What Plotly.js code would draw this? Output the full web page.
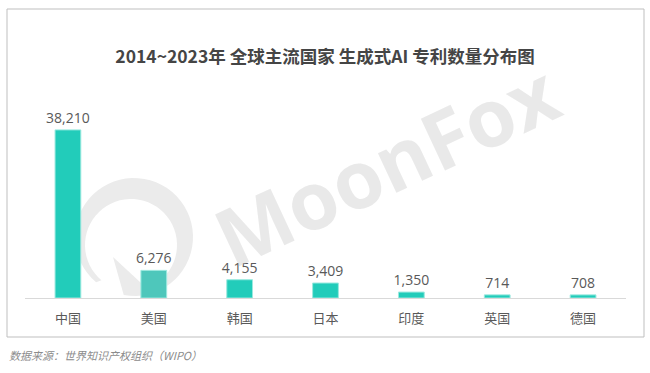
<!DOCTYPE html>
<html>
<head>
<meta charset="utf-8">
<script src="https://cdn.plot.ly/plotly-3.0.1.min.js"></script>
<style>html,body{margin:0;padding:0;background:#fff;}</style>
</head>
<body>
<div id="chart" style="width:650px;height:373px;"></div>
<script>
const countries = ["中国", "美国", "韩国", "日本", "印度", "英国", "德国"];
const patents = [38210, 6276, 4155, 3409, 1350, 714, 708];
const barColors = ["#22CCBA", "#4EC7BB", "#22CCBA", "#22CCBA", "#22CCBA", "#22CCBA", "#22CCBA"];
const titleText = "2014~2023年 全球主流国家 生成式AI 专利数量分布图";
const sourceText = "数据来源：世界知识产权组织（WIPO）";

const fontFam = "'Open Sans', 'Noto Sans CJK SC', sans-serif";

// plot-area pixel frame (for decorative watermark / frame placement)
const PL = 25, PW = 601, PB = 298, PH = 198;
const px = x => (x - PL) / PW;
const py = y => (PB - y) / PH;

// watermark logo ring (decoration)
function logoPath() {
  const oc = [134, 237], orad = 59, ic = [131, 245], irad = 46;
  const pts = [];
  for (let a = 130; a <= 460; a += 6) {
    const r = a * Math.PI / 180;
    pts.push([oc[0] + orad * Math.cos(r), oc[1] + orad * Math.sin(r)]);
  }
  pts.push([113, 257]);
  for (let a = 430; a >= 130; a -= 6) {
    const r = a * Math.PI / 180;
    pts.push([ic[0] + irad * Math.cos(r), ic[1] + irad * Math.sin(r)]);
  }
  return "M" + pts.map(p => px(p[0]).toFixed(5) + "," + py(p[1]).toFixed(5)).join(" L") + " Z";
}

const trace = {
  type: "bar",
  x: countries,
  y: patents,
  marker: { color: barColors, line: { color: "#9BE9DF", width: 1 } },
  text: patents.map(v => v.toLocaleString("en-US")),
  textposition: "outside",
  constraintext: "none",
  cliponaxis: false,
  textfont: { family: fontFam, size: 14, color: "#595959" },
  hoverinfo: "none"
};

const layout = {
  width: 650,
  height: 373,
  margin: { l: PL, r: 650 - PL - PW, t: PB - PH, b: 373 - PB },
  paper_bgcolor: "#ffffff",
  plot_bgcolor: "rgba(0,0,0,0)",
  bargap: 0.7,
  showlegend: false,
  title: {
    text: "<b>" + titleText + "</b>",
    x: 0.5, xanchor: "center",
    y: 1 - 57 / 373, yanchor: "middle", yref: "container",
    font: { family: "'Noto Sans CJK SC', sans-serif", size: 17.5, color: "#454545" }
  },
  xaxis: {
    type: "category",
    showline: true, linecolor: "#D9D9D9", linewidth: 1,
    showgrid: false, zeroline: false, ticks: "",
    ticklabelstandoff: 8,
    tickfont: { family: "'Noto Sans CJK SC', sans-serif", size: 13, color: "#595959" }
  },
  yaxis: {
    range: [0, 45000],
    visible: false, showgrid: false, zeroline: false
  },
  shapes: [
    {
      type: "rect", xref: "paper", yref: "paper",
      x0: px(7), x1: px(644), y0: py(337), y1: py(9),
      line: { color: "#BFBFBF", width: 1 }, fillcolor: "rgba(0,0,0,0)", layer: "below"
    },
    {
      type: "path", xref: "paper", yref: "paper", path: logoPath(),
      fillcolor: "#EBEBEB", line: { width: 0 }, layer: "below"
    }
  ],
  annotations: [
    {
      text: "<b>MoonFox</b>", xref: "paper", yref: "paper",
      x: px(385), y: py(163),
      xanchor: "center", yanchor: "middle", showarrow: false,
      textangle: -25,
      font: { family: "'Open Sans', sans-serif", size: 80, color: "rgba(200,200,200,0.4)" }
    },
    {
      text: "<i>" + sourceText + "</i>", xref: "paper", yref: "paper",
      x: px(7), y: py(355),
      xanchor: "left", yanchor: "middle", showarrow: false,
      font: { family: "'Noto Sans CJK SC', sans-serif", size: 11, color: "#8C8C8C" }
    }
  ]
};

Plotly.newPlot("chart", [trace], layout, { displayModeBar: false, staticPlot: true });
</script>
</body>
</html>
